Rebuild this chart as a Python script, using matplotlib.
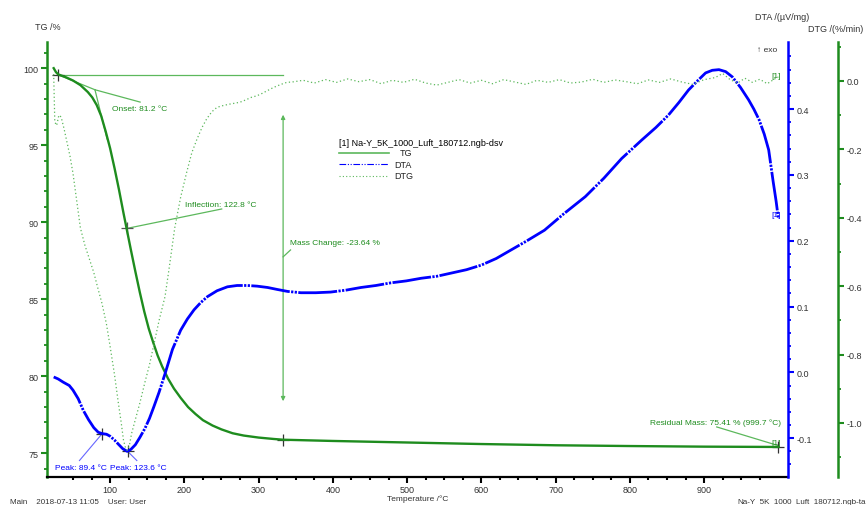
import matplotlib
matplotlib.use("Agg")
import matplotlib.pyplot as plt
from matplotlib.lines import Line2D
import numpy as np

plt.rcParams['font.family'] = ['Liberation Sans', 'DejaVu Sans']
FS = 6.5   # tick labels
FA = 6.0   # annotations

# ---------------- data ----------------
T_tg = [24, 27, 30, 40, 50, 60, 70, 76, 82, 88, 94, 100, 106, 112, 118, 123, 128, 134, 140, 146,
        152, 158, 164, 170, 178, 186, 195, 205, 215, 225, 238, 250, 265, 280, 300, 320, 333,
        400, 500, 600, 700, 800, 900, 1000]
tg = [100.0, 99.75, 99.6, 99.42, 99.2, 98.9, 98.45, 98.1, 97.6, 96.9, 95.9, 94.8, 93.5, 92.1,
      90.6, 89.4, 88.2, 86.8, 85.45, 84.2, 83.1, 82.2, 81.35, 80.65, 79.85, 79.2, 78.6, 78.0,
      77.55, 77.15, 76.8, 76.55, 76.3, 76.15, 76.02, 75.93, 75.88,
      75.8, 75.7, 75.6, 75.52, 75.47, 75.43, 75.41]

T_dta = [24, 30, 37, 45, 50, 57, 64, 71, 78, 84, 89, 95, 100, 106, 111, 117, 123, 128, 134,
         140, 147, 153, 159, 166, 174, 184, 195, 204, 213, 222, 231, 244, 258, 271, 285, 298,
         312, 325, 339, 357, 377, 397, 418, 438, 458, 478, 499, 519, 540, 560, 580, 600, 620,
         640, 660, 685, 710, 740, 765, 789, 816, 835, 852, 866, 879, 892, 902, 911, 920, 929,
         938, 949, 960, 967, 974, 981, 987, 993, 997, 1000]
dta = [-0.007, -0.010, -0.015, -0.020, -0.027, -0.040, -0.058, -0.072, -0.084, -0.091, -0.093,
       -0.094, -0.097, -0.103, -0.109, -0.116, -0.120, -0.117, -0.110, -0.099, -0.085, -0.070,
       -0.052, -0.030, -0.002, 0.035, 0.064, 0.081, 0.095, 0.106, 0.115, 0.124, 0.130, 0.132,
       0.132, 0.131, 0.129, 0.126, 0.123, 0.121, 0.121, 0.122, 0.125, 0.129, 0.132, 0.136,
       0.139, 0.143, 0.146, 0.151, 0.156, 0.163, 0.173, 0.186, 0.199, 0.216, 0.240, 0.267,
       0.295, 0.325, 0.353, 0.372, 0.391, 0.410, 0.429, 0.444, 0.455, 0.459, 0.460, 0.457,
       0.449, 0.433, 0.414, 0.400, 0.384, 0.362, 0.338, 0.290, 0.260, 0.234]

T_dtg = [24, 25.5, 28, 31, 34, 38, 41, 46, 50, 55, 60, 66, 72, 78, 84, 89, 95, 100, 106, 111,
         115, 118, 121, 123, 126, 129, 134, 140, 147, 153, 159, 166, 174, 180, 187, 195, 203,
         210, 217, 224, 230, 237, 244, 252, 260, 268, 275, 283, 290, 298, 305, 312, 320, 330,
         338, 345, 360, 375, 390, 405, 420, 435, 450, 465, 480, 495, 510, 525, 540, 555, 570,
         585, 600, 615, 630, 645, 660, 675, 690, 705, 720, 735, 750, 765, 780, 795, 810, 825,
         840, 855, 870, 885, 900, 915, 925, 935, 945, 955, 965, 975, 985, 995, 1000]
dtg = [0.02, -0.12, -0.13, -0.10, -0.105, -0.14, -0.17, -0.22, -0.27, -0.35, -0.43, -0.48,
       -0.52, -0.56, -0.61, -0.65, -0.71, -0.776, -0.86, -0.94, -1.00, -1.05, -1.075, -1.08,
       -1.065, -1.03, -0.99, -0.942, -0.88, -0.83, -0.77, -0.70, -0.63, -0.54, -0.43, -0.34,
       -0.268, -0.21, -0.17, -0.135, -0.111, -0.09, -0.077, -0.072, -0.068, -0.065, -0.062,
       -0.055, -0.048, -0.043, -0.036, -0.028, -0.019, -0.010, -0.004, -0.003, 0.002, -0.006,
       0.004, -0.004, 0.006, -0.002, 0.004, -0.008, 0.002, -0.004, 0.005, -0.006, -0.012,
       -0.004, 0.004, -0.006, 0.002, -0.008, 0.004, -0.003, -0.010, 0.002, -0.004, 0.004,
       -0.006, -0.003, 0.005, -0.004, 0.003, -0.002, -0.008, 0.003, -0.004, 0.006, -0.003,
       -0.010, 0.004, 0.010, 0.022, 0.004, -0.006, 0.008, -0.004, 0.005, -0.008, 0.006, 0.012]

x_major = [100, 200, 300, 400, 500, 600, 700, 800, 900]

# ---------------- figure ----------------
W, H = 867, 506
fig = plt.figure(figsize=(W / 100, H / 100), dpi=100)
L, R, B, T = 47, 788, 478, 43
ax = fig.add_axes([L / W, 1 - B / H, (R - L) / W, (B - T) / H])
ax2 = ax.twinx()
ax3 = ax.twinx()

GREEN = '#1e8c1e'
LGREEN = '#5cb85c'
BLUE = '#0000ff'
GRAY = '#333333'

ax.set_xlim(15, 1013)
ax.set_ylim(73.46, 101.7)
ax2.set_ylim(-0.159, 0.502)
ax3.set_ylim(-1.158, 0.114)

# spines
for s in ['top', 'right']:
    ax.spines[s].set_visible(False)
ax.spines['left'].set_color(GREEN)
ax.spines['left'].set_linewidth(1.8)
ax.spines['bottom'].set_color('black')
ax.spines['bottom'].set_linewidth(1.6)
for a in (ax2, ax3):
    for s in ['top', 'left', 'bottom']:
        a.spines[s].set_visible(False)
ax2.spines['right'].set_color(BLUE)
ax2.spines['right'].set_linewidth(1.8)
ax3.spines['right'].set_position(('axes', (838 - L) / (R - L)))
ax3.spines['right'].set_color(GREEN)
ax3.spines['right'].set_linewidth(1.8)

# ticks
ax.set_xticks(x_major)
ax.set_xticks(np.arange(50, 1000, 25), minor=True)
ax.set_yticks([75, 80, 85, 90, 95, 100])
ax.set_yticks(np.arange(74, 102, 1), minor=True)
ax2.set_yticks([-0.1, 0.0, 0.1, 0.2, 0.3, 0.4])
ax2.set_yticks(np.arange(-0.14, 0.50, 0.02), minor=True)
ax2.set_yticklabels(['-0.1', '0.0', '0.1', '0.2', '0.3', '0.4'])
ax3.set_yticks([-1.0, -0.8, -0.6, -0.4, -0.2, 0.0])
ax3.set_yticks(np.arange(-1.1, 0.11, 0.1), minor=True)
ax3.set_yticklabels(['-1.0', '-0.8', '-0.6', '-0.4', '-0.2', '0.0'])

ax.tick_params(axis='x', which='major', length=4, width=1.5, color='black', labelsize=FS,
               labelcolor=GRAY, pad=1.5)
ax.tick_params(axis='x', which='minor', length=2.5, width=1.5, color='black')
ax.tick_params(axis='y', which='major', length=4, width=1.5, color=GREEN, labelsize=FS,
               labelcolor=GRAY, pad=2)
ax.tick_params(axis='y', which='minor', length=2.5, width=1.3, color=GREEN)
ax2.tick_params(axis='y', which='major', length=4, width=1.5, color=BLUE, labelsize=FS,
                labelcolor=GRAY, pad=2)
ax2.tick_params(axis='y', which='minor', length=2.5, width=1.3, color=BLUE)
ax3.tick_params(axis='y', which='major', length=4, width=1.5, color=GREEN, labelsize=FS,
                labelcolor=GRAY, pad=2)
ax3.tick_params(axis='y', which='minor', length=2.5, width=1.3, color=GREEN)

# ---------------- curves ----------------
ax.plot(T_tg, tg, color=GREEN, lw=1.7, zorder=3)
ax2.plot(T_dta, dta, color=BLUE, lw=2.0, linestyle=(0, (14, 0.5, 0.8, 0.5, 0.8, 0.5)), zorder=3)
ax3.plot(T_dtg, dtg, color=LGREEN, lw=0.9, linestyle=(0, (1, 2)), zorder=2)

# ---------------- annotations ----------------
ann = dict(color=LGREEN, lw=0.9)
# onset construction
ax.plot([30, 333], [99.57, 99.57], **ann)
ax.plot([30, 79.6], [99.57, 98.6], **ann)
ax.plot([79.6, 96], [98.6, 95.4], **ann)
ax.plot([79.6, 140.4], [98.6, 97.8], **ann)
ax.text(102.3, 97.4, 'Onset: 81.2 °C', color=GREEN, fontsize=FA, va='center', ha='left')
ax.plot([30], [99.57], marker='+', color='#333333', ms=8, mew=0.9)
# inflection
ax.plot([122.8, 250.3], [89.6, 90.86], **ann)
ax.plot([122.8], [89.6], marker='+', color='#555555', ms=8, mew=0.9)
ax.text(201, 91.14, 'Inflection: 122.8 °C', color=GREEN, fontsize=FA, va='center', ha='left')
# mass change
ax.annotate('', xy=(333, 78.2), xytext=(333, 97.16),
            arrowprops=dict(arrowstyle='<|-|>', color=LGREEN, lw=0.9, mutation_scale=6))
ax.plot([333, 343], [87.75, 88.2], **ann)
ax.text(342, 88.7, 'Mass Change: -23.64 %', color=GREEN, fontsize=FA, va='center', ha='left')
ax.plot([333], [75.88], marker='+', color='#333333', ms=8, mew=0.9)
# residual mass
ax.plot([917, 999.7], [76.71, 75.5], **ann)
ax.text(1004, 77.03, 'Residual Mass: 75.41 % (999.7 °C)', color=GREEN, fontsize=FA,
        va='center', ha='right')
ax.text(997, 75.71, '[1]', color=GREEN, fontsize=FA, va='center', ha='center')
ax.plot([999.7], [75.41], marker='+', color='#333333', ms=8, mew=0.9)
# DTA peaks
pk = dict(color='#6666ff', lw=0.8)
ax2.plot([58.7, 89.4], [-0.134, -0.093], **pk)
ax2.plot([136, 123.6], [-0.134, -0.120], **pk)
ax2.plot([89.4, 123.6], [-0.093, -0.120], marker='+', ls='none', color='#333333', ms=8, mew=0.9)
ax2.text(26, -0.144, 'Peak: 89.4 °C', color=BLUE, fontsize=FA, va='center', ha='left')
ax2.text(100, -0.144, 'Peak: 123.6 °C', color=BLUE, fontsize=FA, va='center', ha='left')
ax2.text(997, 0.240, '[1]', color=BLUE, fontsize=FA, va='center', ha='center')
ax3.text(997, 0.016, '[1]', color=GREEN, fontsize=FA, va='center', ha='center')

# ---------------- legend (manual) ----------------
def fx(px):
    return px / W

def fy(py):
    return 1 - py / H

fig.text(fx(339), fy(144), '[1] Na-Y_5K_1000_Luft_180712.ngb-dsv', fontsize=FS, color='black',
         va='center', ha='left')
fig.add_artist(Line2D([fx(339), fx(389)], [fy(154), fy(154)], color=LGREEN, lw=1.2))
fig.text(fx(400), fy(154), 'TG', fontsize=FS, color='#222222', va='center', ha='left')
fig.add_artist(Line2D([fx(339), fx(388)], [fy(165), fy(165)], color=BLUE, lw=0.8,
                      linestyle=(0, (6, 1.5, 1, 1.5, 1, 1.5))))
fig.text(fx(394), fy(165), 'DTA', fontsize=FS, color='#222222', va='center', ha='left')
fig.add_artist(Line2D([fx(339), fx(388)], [fy(177), fy(177)], color=LGREEN, lw=0.8,
                      linestyle=(0, (1, 2))))
fig.text(fx(394), fy(177), 'DTG', fontsize=FS, color='#222222', va='center', ha='left')

# ---------------- axis titles & footer ----------------
fig.text(fx(35), fy(28), 'TG /%', fontsize=FS, color=GRAY, va='center', ha='left')
fig.text(fx(755), fy(17), 'DTA /(µV/mg)', fontsize=FS, color=GRAY, va='center', ha='left')
fig.text(fx(808), fy(29), 'DTG /(%/min)', fontsize=FS, color=GRAY, va='center', ha='left')
fig.text(fx(777), fy(50), '↑ exo', fontsize=FA, color=GRAY, va='center', ha='right')
fig.text(fx(418), fy(499), 'Temperature /°C', fontsize=FA, color=GRAY, va='center', ha='center')
fig.text(fx(10), fy(503), 'Main    2018-07-13 11:05    User: User', fontsize=5.8,
         color=GRAY, va='center', ha='left')
fig.text(fx(737), fy(503), 'Na-Y_5K_1000_Luft_180712.ngb-ta', fontsize=5.8,
         color=GRAY, va='center', ha='left')

fig.savefig('out.png', dpi=100)
